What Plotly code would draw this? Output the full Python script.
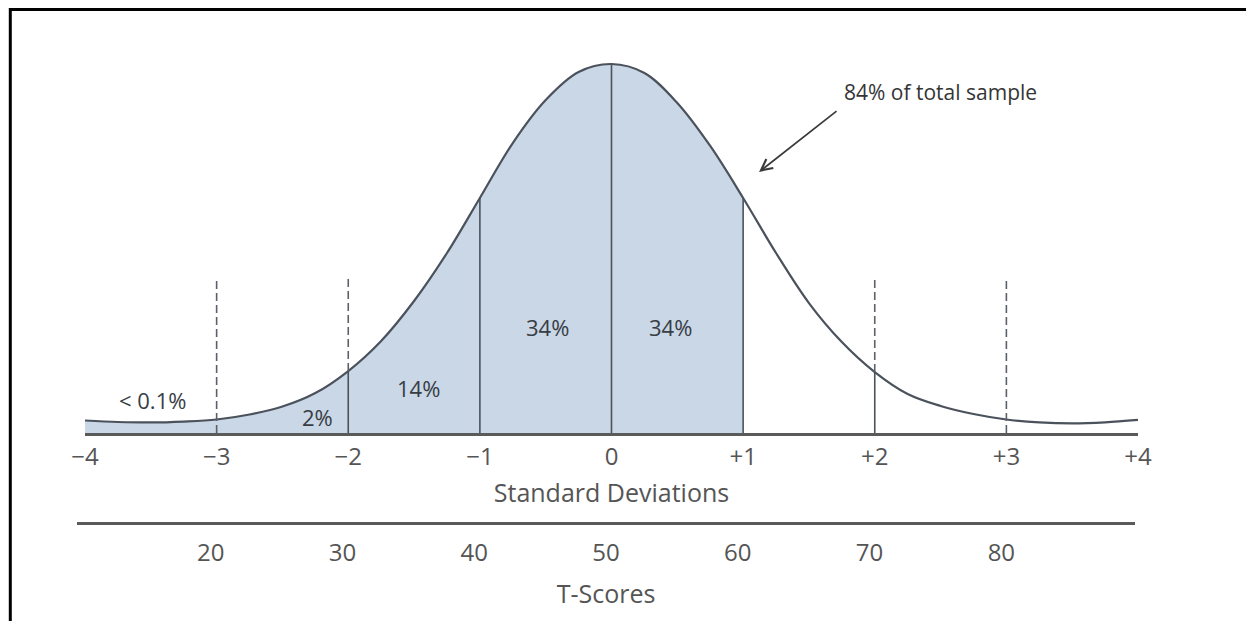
import plotly.graph_objects as go

# ---- data ----
sd_x = [-4.0, -3.75, -3.5, -3.25, -3.0, -2.75, -2.5, -2.25, -2.0, -1.75, -1.5, -1.25,
        -1.0, -0.75, -0.5, -0.25, 0.0, 0.25, 0.5, 0.75, 1.0, 1.25, 1.5, 1.75, 2.0,
        2.25, 2.5, 2.75, 3.0, 3.25, 3.5, 3.75, 4.0]
curve_y = [0.0135, 0.0119, 0.0114, 0.0124, 0.0146, 0.0200, 0.0286, 0.0432, 0.0670,
           0.0995, 0.1427, 0.1946, 0.2541, 0.3135, 0.3600, 0.3903, 0.3989, 0.3892,
           0.3568, 0.3103, 0.2541, 0.1946, 0.1405, 0.0984, 0.0659, 0.0422, 0.0292,
           0.0205, 0.0146, 0.0114, 0.0103, 0.0114, 0.0141]

sd_ticks = [-4, -3, -2, -1, 0, 1, 2, 3, 4]
sd_labels = ["\u22124", "\u22123", "\u22122", "\u22121", "0", "+1", "+2", "+3", "+4"]
t_ticks = [20, 30, 40, 50, 60, 70, 80]
t_labels = ["20", "30", "40", "50", "60", "70", "80"]

shade_end = 1.0
solid_at = [-2, -1, 0, 1, 2]
dashed_full = [-3, 3]
dashed_top = [-2, 2]
dash_height = 0.167

pct_labels = ["< 0.1%", "2%", "14%", "34%", "34%"]
note_text = "84% of total sample"

# ---- styles ----
CURVE = "#4b525c"
FILL = "#c9d7e6"
AXIS = "#5a5a5a"
TXT = "#555555"
DARK = "#383d44"
FONT = "Open Sans"

def h_at(x):
    return curve_y[sd_x.index(float(x))]

shade_x = [x for x in sd_x if x <= shade_end]
shade_y = [curve_y[i] for i, x in enumerate(sd_x) if x <= shade_end]

fig = go.Figure()
fig.add_trace(go.Scatter(x=shade_x, y=shade_y, mode="lines", fill="tozeroy",
                         fillcolor=FILL, line=dict(width=0, shape="spline", color=FILL),
                         hoverinfo="skip", showlegend=False))
fig.add_trace(go.Scatter(x=sd_x, y=curve_y, mode="lines",
                         line=dict(width=2.2, shape="spline", color=CURVE),
                         hoverinfo="skip", showlegend=False))
# invisible trace to carry the T-score axis
fig.add_trace(go.Scatter(x=t_ticks, y=[0] * len(t_ticks), xaxis="x2", yaxis="y",
                         mode="markers", marker=dict(opacity=0), hoverinfo="skip",
                         showlegend=False))

shapes = []
for x in solid_at:
    shapes.append(dict(type="line", xref="x", yref="y", x0=x, x1=x, y0=0, y1=h_at(x),
                       line=dict(color=CURVE, width=1.6)))
for x in dashed_full:
    shapes.append(dict(type="line", xref="x", yref="y", x0=x, x1=x, y0=0, y1=dash_height,
                       line=dict(color="#5c6068", width=1.6, dash="8px,4px")))
for x in dashed_top:
    shapes.append(dict(type="line", xref="x", yref="y", x0=x, x1=x, y0=h_at(x), y1=dash_height,
                       line=dict(color="#5c6068", width=1.6, dash="8px,4px")))

# page-pixel helpers (page is offset by the 8px body margin)
W, H = 1061.0, 601.0
L = 77.0
def px(xp):
    return (xp - L) / W
def py(yp):
    return (621.0 - yp) / H

# frame (top and left edges)
shapes.append(dict(type="line", xref="paper", yref="paper", x0=px(9), x1=px(1256),
                   y0=py(9.5), y1=py(9.5), line=dict(color="black", width=3)))
shapes.append(dict(type="line", xref="paper", yref="paper", x0=px(10.3), x1=px(10.3),
                   y0=py(8), y1=py(622), line=dict(color="black", width=3)))

ann = []
pct_pos = [(-3.49, 0.0357), (-2.23, 0.0173), (-1.463, 0.0486), (-0.49, 0.1146), (0.445, 0.1146)]
for txt, (x, y) in zip(pct_labels, pct_pos):
    ann.append(dict(x=x, y=y, xref="x", yref="y", text=txt, showarrow=False,
                    font=dict(family=FONT, size=22, color=DARK)))
ann.append(dict(x=2.503, y=0.3686, xref="x", yref="y", text=note_text, showarrow=False,
                font=dict(family=FONT, size=21, color="#353535")))
ann.append(dict(x=1.121, y=0.2822, ax=1.721, ay=0.3492, xref="x", yref="y",
                axref="x", ayref="y", text="", showarrow=True, arrowhead=5,
                arrowsize=1.3, arrowwidth=1.7, arrowcolor="#3a3a3a"))

fig.update_layout(
    width=1246, height=613,
    margin=dict(l=69, r=116, t=12, b=0),
    paper_bgcolor="white", plot_bgcolor="rgba(0,0,0,0)",
    showlegend=False,
    shapes=shapes, annotations=ann,
    xaxis=dict(domain=[8 / W, 1], range=[-4, 4], anchor="y", showgrid=False,
               zeroline=False, showline=True, linecolor=AXIS, linewidth=2.5,
               tickmode="array", tickvals=sd_ticks, ticktext=sd_labels, ticks="",
               ticklabelstandoff=0,
               tickfont=dict(family=FONT, size=24, color=TXT),
               title=dict(text="Standard Deviations", standoff=14,
                          font=dict(family=FONT, size=25, color=TXT))),
    xaxis2=dict(domain=[0, 1058 / W], range=[9.86, 90.14], anchor="free",
                position=py(523), showgrid=False, zeroline=False, showline=True,
                linecolor=AXIS, linewidth=2.5, tickmode="array", tickvals=t_ticks,
                ticktext=t_labels, ticks="", ticklabelstandoff=7,
                tickfont=dict(family=FONT, size=24, color=TXT),
                title=dict(text="T-Scores", standoff=18,
                           font=dict(family=FONT, size=25, color=TXT))),
    yaxis=dict(domain=[py(433), 1], range=[0, (433 - 20) / 925.0], visible=False,
               showgrid=False, zeroline=False),
)

fig.write_html("out.html")
